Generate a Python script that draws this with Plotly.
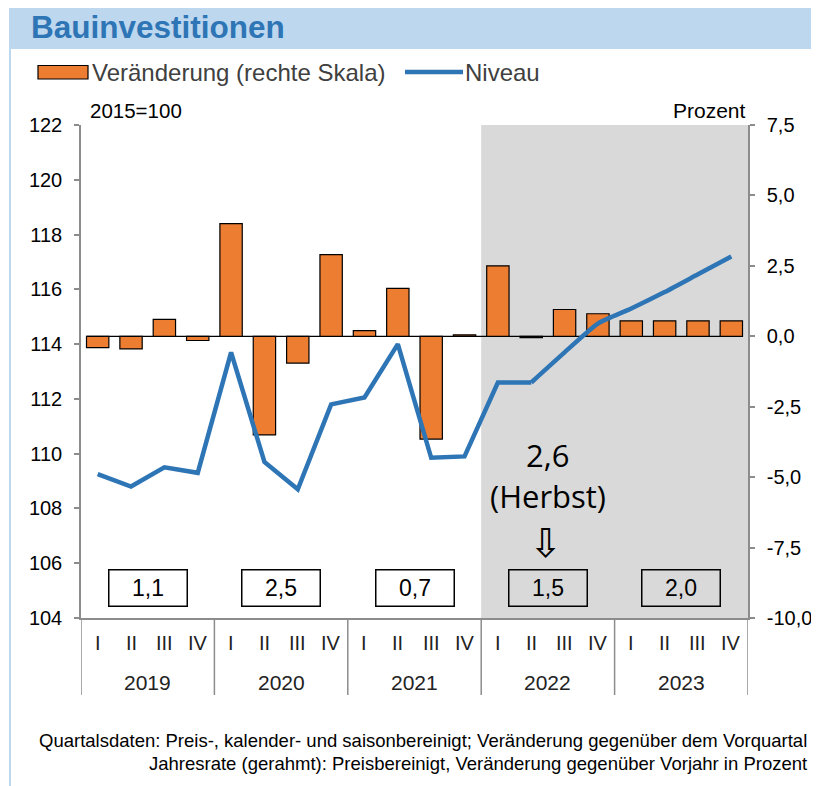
import plotly.graph_objects as go

# ---------------- data ----------------
years = ["2019", "2020", "2021", "2022", "2023"]
quarters = ["I", "II", "III", "IV"]
veraenderung = [-0.4, -0.45, 0.6, -0.15,
                4.0, -3.5, -0.95, 2.9,
                0.2, 1.7, -3.65, 0.05,
                2.5, -0.05, 0.95, 0.8,
                0.55, 0.55, 0.55, 0.55]
niveau = [109.25, 108.8, 109.5, 109.3,
          113.7, 109.7, 108.7, 111.8,
          112.05, 114.0, 109.85, 109.9,
          112.6, 112.6, 113.7, 114.75,
          115.3, 115.9, 116.55, 117.2]
jahresrate = [1.1, 2.5, 0.7, 1.5, 2.0]
herbst_value = 2.6
forecast_start = 13  # index from which the smoothed (forecast) line starts
left_ticks = [104, 106, 108, 110, 112, 114, 116, 118, 120, 122]
right_ticks = [-10.0, -7.5, -5.0, -2.5, 0.0, 2.5, 5.0, 7.5]

def de(v):
    return f"{v:.1f}".replace(".", ",")

# ---------------- style ----------------
FONT = "Liberation Sans, Arial, sans-serif"
ORANGE = "#ED7D31"
BLUE = "#2E75B6"
GRAY_AX = "#8C8C8C"
SHADE = "#D9D9D9"
BAND = "#BDD7EE"

n = len(veraenderung)
xs = list(range(n))
BAR_W = 0.67

# page is offset by the 8px body margin; work in screen pixels
OFF = 8
W, H = 819 - OFF, 786 - OFF
L, R, T, B = 81, 748, 125, 618          # plot area, screen pixels
def px(xp):
    return (xp - L) / (R - L)
def py(yp):
    return (B - yp) / (B - T)

fig = go.Figure()

fig.add_trace(go.Bar(
    x=xs, y=veraenderung, width=BAR_W,
    marker=dict(color=ORANGE, line=dict(color="black", width=1.2)),
    yaxis="y", showlegend=False, name="Veränderung (rechte Skala)"))

fig.add_trace(go.Scatter(
    x=xs[:forecast_start + 1], y=niveau[:forecast_start + 1],
    mode="lines", line=dict(color=BLUE, width=4.5),
    yaxis="y2", showlegend=False, name="Niveau"))
fig.add_trace(go.Scatter(
    x=xs[forecast_start:], y=niveau[forecast_start:],
    mode="lines", line=dict(color=BLUE, width=4.5, shape="spline", smoothing=0.6),
    yaxis="y2", showlegend=False, name="Niveau"))

shapes = []
shapes.append(dict(type="rect", xref="x", yref="paper", x0=11.5, x1=n - 0.5,
                   y0=0, y1=1, fillcolor=SHADE, line=dict(width=0), layer="below"))
shapes.append(dict(type="line", xref="x", yref="y", x0=-BAR_W / 2, x1=n - 1 + BAR_W / 2,
                   y0=0, y1=0, line=dict(color="black", width=1.3), layer="below"))
for k in range(len(years) + 1):
    xv = -0.5 + 4 * k
    shapes.append(dict(type="line", xref="x", yref="paper", x0=xv, x1=xv,
                       y0=py(695), y1=0, line=dict(color=GRAY_AX, width=1.5)))
shapes.append(dict(type="rect", xref="paper", yref="paper", x0=px(10), x1=px(830),
                   y0=py(49), y1=py(3), fillcolor=BAND, line=dict(width=0)))
shapes.append(dict(type="line", xref="paper", yref="paper", x0=px(10), x1=px(10),
                   y0=py(800), y1=py(3), line=dict(color=BAND, width=2)))
shapes.append(dict(type="rect", xref="paper", yref="paper", x0=px(38), x1=px(88),
                   y0=py(79), y1=py(65.5), fillcolor=ORANGE, line=dict(color="black", width=1.2)))
shapes.append(dict(type="line", xref="paper", yref="paper", x0=px(405), x1=px(463),
                   y0=py(72), y1=py(72), line=dict(color=BLUE, width=4.5)))

ann = []
ann.append(dict(text="<b>Bauinvestitionen</b>", xref="paper", yref="paper",
                x=px(29), y=py(27), xanchor="left", yanchor="middle", showarrow=False,
                font=dict(family=FONT, size=31.5, color=BLUE)))
ann.append(dict(text="Veränderung (rechte Skala)", xref="paper", yref="paper",
                x=px(90), y=py(72), xanchor="left", yanchor="middle", showarrow=False,
                font=dict(family=FONT, size=24, color="#404040")))
ann.append(dict(text="Niveau", xref="paper", yref="paper",
                x=px(463), y=py(72), xanchor="left", yanchor="middle", showarrow=False,
                font=dict(family=FONT, size=24, color="#404040")))
ann.append(dict(text="2015=100", xref="paper", yref="paper",
                x=px(88), y=py(110), xanchor="left", yanchor="middle", showarrow=False,
                font=dict(family=FONT, size=20.5, color="black")))
ann.append(dict(text="Prozent", xref="paper", yref="paper",
                x=px(748), y=py(110), xanchor="right", yanchor="middle", showarrow=False,
                font=dict(family=FONT, size=21, color="black")))
for i in xs:
    ann.append(dict(text=quarters[i % 4], xref="x", yref="paper", x=i, y=py(643),
                    xanchor="center", yanchor="middle", showarrow=False,
                    font=dict(family=FONT, size=20, color="#222222")))
for k, yr in enumerate(years):
    ann.append(dict(text=yr, xref="x", yref="paper", x=4 * k + 1.5, y=py(682),
                    xanchor="center", yanchor="middle", showarrow=False,
                    font=dict(family=FONT, size=21, color="#222222")))
for k, v in enumerate(jahresrate):
    ann.append(dict(text=de(v), xref="x", yref="paper",
                    x=4 * k + 1.5, y=py(588), xanchor="center", yanchor="middle",
                    showarrow=False, width=73, height=31, borderpad=2,
                    bordercolor="black", borderwidth=1.5,
                    font=dict(family=FONT, size=23, color="black")))
ann.append(dict(text=de(herbst_value), xref="x", yref="paper",
                x=13.5, y=py(455), xanchor="center", yanchor="middle", showarrow=False,
                font=dict(family="Open Sans, sans-serif", size=31, color="black")))
ann.append(dict(text="(Herbst)", xref="x", yref="paper",
                x=13.5, y=py(496), xanchor="center", yanchor="middle", showarrow=False,
                font=dict(family="Open Sans, sans-serif", size=31, color="black")))
ann.append(dict(text="⇩", xref="x", yref="paper",
                x=13.45, y=py(543), xanchor="center", yanchor="middle", showarrow=False,
                font=dict(family="DejaVu Sans, sans-serif", size=40, color="black")))
ann.append(dict(text="Quartalsdaten: Preis-, kalender- und saisonbereinigt; Veränderung gegenüber dem Vorquartal",
                xref="paper", yref="paper", x=px(809), y=py(740), xanchor="right",
                yanchor="middle", showarrow=False, font=dict(family=FONT, size=18.5, color="black")))
ann.append(dict(text="Jahresrate (gerahmt): Preisbereinigt, Veränderung gegenüber Vorjahr in Prozent",
                xref="paper", yref="paper", x=px(809), y=py(763), xanchor="right",
                yanchor="middle", showarrow=False, font=dict(family=FONT, size=18.5, color="black")))

fig.update_layout(
    width=W, height=H,
    margin=dict(l=L - OFF, r=(OFF + W) - R, t=T - OFF, b=(OFF + H) - B,
                autoexpand=False),
    paper_bgcolor="white", plot_bgcolor="white",
    separators=",.",
    bargap=0.33,
    shapes=shapes, annotations=ann,
    xaxis=dict(range=[-0.5, n - 0.5], showticklabels=False, ticks="",
               showgrid=False, zeroline=False, showline=True, automargin=False,
               linecolor=GRAY_AX, linewidth=1.5),
    yaxis=dict(side="right", range=[-10, 7.5], tickvals=right_ticks,
               ticktext=[de(v) for v in right_ticks], automargin=False,
               ticks="outside", ticklen=5, tickcolor=GRAY_AX, tickwidth=1.5,
               showline=True, linecolor=GRAY_AX, linewidth=1.5,
               showgrid=False, zeroline=False, ticklabelstandoff=8,
               tickfont=dict(family=FONT, size=20, color="black")),
    yaxis2=dict(side="left", overlaying="y", range=[104, 122], tickvals=left_ticks,
                ticks="outside", ticklen=5, tickcolor=GRAY_AX, tickwidth=1.5,
                showline=True, linecolor=GRAY_AX, linewidth=1.5, automargin=False,
                showgrid=False, zeroline=False, ticklabelstandoff=8,
                tickfont=dict(family=FONT, size=20, color="black")),
    showlegend=False,
)

fig.write_html("out.html")
